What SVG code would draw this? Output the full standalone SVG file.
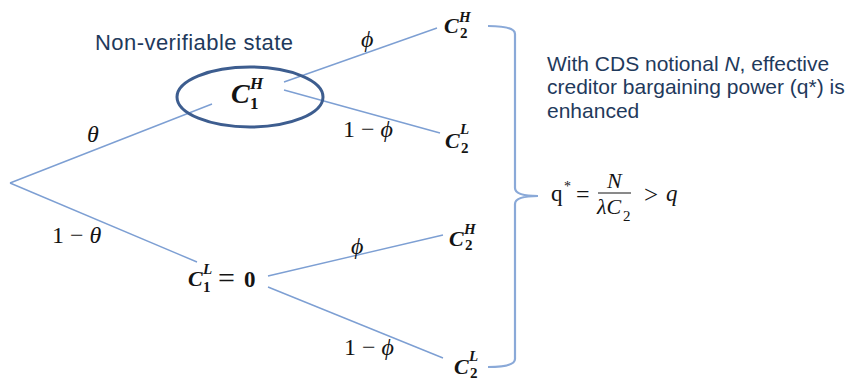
<svg xmlns="http://www.w3.org/2000/svg" width="846" height="380" viewBox="0 0 846 380">
<style>
.edge{stroke:#7d9fd3;stroke-width:1.4;fill:none}
.brace{stroke:#8aa9d8;stroke-width:2.2;fill:none}
.m{font-family:"Liberation Serif","DejaVu Serif",serif;fill:#141414}
.cb{font-weight:bold;font-style:italic}
.db{font-weight:bold}
.it{font-style:italic}
.sans{font-family:"Liberation Sans",Arial,sans-serif;fill:#1f3a5c}
</style>
<rect width="846" height="380" fill="#ffffff"/>
<g id="connectors">
<line class="edge" x1="10" y1="183" x2="212" y2="104"/>
<line class="edge" x1="10" y1="183" x2="197" y2="262"/>
<line class="edge" x1="284" y1="82" x2="437" y2="28"/>
<line class="edge" x1="284" y1="90" x2="440" y2="133"/>
<line class="edge" x1="268" y1="276" x2="443" y2="235"/>
<line class="edge" x1="268" y1="287" x2="443" y2="358"/>
</g>
<g id="edge-labels" class="m">
<text x="87" y="142" font-size="24" class="it">θ</text>
<text x="52" y="243" font-size="24">1 − <tspan class="it">θ</tspan></text>
<text x="361" y="47" font-size="24" class="it">ϕ</text>
<text x="343" y="137" font-size="24">1 − <tspan class="it">ϕ</tspan></text>
<text x="351" y="254" font-size="24" class="it">ϕ</text>
<text x="344" y="355" font-size="24">1 − <tspan class="it">ϕ</tspan></text>
</g>
<g id="node-c1h">
<ellipse cx="250" cy="97" rx="73" ry="30" fill="none" stroke="#3d5d8f" stroke-width="3"/>
<text x="95" y="50" font-size="22" class="sans" textLength="198" lengthAdjust="spacing">Non-verifiable state</text>
<text x="231" y="103" font-size="28" class="m cb">C</text>
<text x="250" y="89" font-size="17" class="m cb">H</text>
<text x="250" y="109" font-size="17" class="m db">1</text>
</g>
<g id="node-c1l">
<text x="188" y="286" font-size="22" class="m cb">C</text>
<text x="203" y="274" font-size="15" class="m cb">L</text>
<text x="203" y="292" font-size="15" class="m db">1</text>
<text x="218" y="288" font-size="30" class="m">=</text>
<text x="244" y="287" font-size="23" class="m db">0</text>
</g>
<g id="node-c2h-top">
<text x="444" y="33" font-size="22" class="m cb">C</text>
<text x="459" y="22" font-size="15" class="m cb">H</text>
<text x="460" y="38" font-size="15" class="m db">2</text>
</g>
<g id="node-c2l-top">
<text x="445" y="148" font-size="22" class="m cb">C</text>
<text x="460" y="134" font-size="15" class="m cb">L</text>
<text x="461" y="153" font-size="15" class="m db">2</text>
</g>
<g id="node-c2h-bot">
<text x="449" y="246" font-size="22" class="m cb">C</text>
<text x="464" y="234" font-size="15" class="m cb">H</text>
<text x="465" y="250" font-size="15" class="m db">2</text>
</g>
<g id="node-c2l-bot">
<text x="454" y="374" font-size="22" class="m cb">C</text>
<text x="469" y="361" font-size="15" class="m cb">L</text>
<text x="470" y="378" font-size="15" class="m db">2</text>
</g>
<g id="brace">
<path class="brace" d="M488,26 Q515,26 515,34 L515,188 Q515,196 538,196 Q515,196 515,204 L515,359 Q515,367 488,367"/>
</g>
<g id="annotation">
<text class="sans" font-size="21" x="547" y="71">With CDS notional <tspan font-style="italic">N</tspan>, effective</text>
<text class="sans" font-size="21" x="547" y="94">creditor bargaining power (q*) is</text>
<text class="sans" font-size="21" x="547" y="118">enhanced</text>
</g>
<g id="formula" class="m">
<text x="551" y="201" font-size="23">q</text>
<text x="564" y="191" font-size="14">*</text>
<text x="576" y="202" font-size="24">=</text>
<line x1="598" y1="193" x2="631" y2="193" stroke="#141414" stroke-width="1"/>
<text x="607" y="188" font-size="22" class="it">N</text>
<text x="597" y="214" font-size="22" class="it">λC</text>
<text x="623" y="221" font-size="15">2</text>
<text x="644" y="203" font-size="25">&gt;</text>
<text x="666" y="201" font-size="23" class="it">q</text>
</g>
</svg>
